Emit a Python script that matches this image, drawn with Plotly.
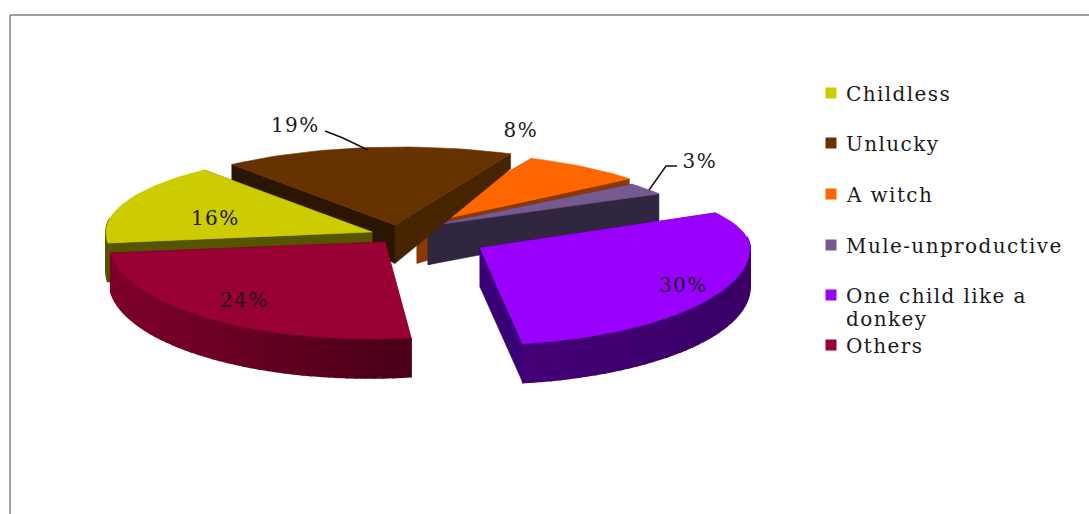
import math
import plotly.graph_objects as go

# ---- data ----
categories = ["Childless", "Unlucky", "A witch", "Mule-unproductive", "One child like a donkey", "Others"]
percent = [16, 19, 8, 3, 30, 24]
legend_labels = ["Childless", "Unlucky", "A witch", "Mule-unproductive", "One child like a<br>donkey", "Others"]

# ---- style ----
top_colors = ["#CCCC00", "#663300", "#FF6600", "#76598F", "#9900FF", "#990033"]
cut_colors = ["#555500", "#2B1500", "#8A3A00", "#312640", "#3A0078", "#7A0028"]
cut2_colors = ["#555500", "#472400", "#8A3A00", "#312640", "#3A0078", "#4F001C"]
rim_left = ["#555500", "#472400", "#8A3A00", "#312640", "#46007A", "#7E002A"]
rim_right = ["#555500", "#472400", "#8A3A00", "#312640", "#3A0066", "#4A0018"]
explode_dx = [-51, -28, -6, 5, 57, -38]
explode_dy = [0, -7, -7, -6, 16, 10]
radius_x = [266, 268, 268, 268, 271, 260]
rim_shift = [0, 6, 5, -3, -1, -16]
far_ry = [80, 78, 73, 66, 72, 75]
draw_order = [2, 3, 1, 0, 5, 4]
label_x = [215, 295, 521, 700, 683, 244]
label_y = [218, 125, 130, 161, 285, 300]

CX, CY = 423, 232
RY_NEAR = 97
START = -96.0
SKEW = 5.0
SKEW_PHASE = 110
FONT = "DejaVu Serif"
TEXT = "#1a1a1a"
LEGEND_LINE = 23


def warp(t):
    return t - SKEW * (1 + math.cos(math.radians(t - SKEW_PHASE)))


def rim(i, t):
    a = math.radians(t)
    c = math.cos(a)
    ry = far_ry[i] if c > 0 else RY_NEAR
    return CX + explode_dx[i] + rim_shift[i] + radius_x[i] * math.sin(a), CY + explode_dy[i] - ry * c


def depth(y):
    return min(39.0, 15 + max(0.0, y - 160) * 0.36)


def hexrgb(h):
    return [int(h[k:k + 2], 16) for k in (1, 3, 5)]


def lerp(h1, h2, f):
    a, b = hexrgb(h1), hexrgb(h2)
    return "rgb(%d,%d,%d)" % tuple(round(a[k] + (b[k] - a[k]) * f) for k in range(3))


fig = go.Figure()


def poly(xs, ys, color, width=0.6):
    fig.add_trace(go.Scatter(
        x=xs, y=ys, mode="lines", fill="toself", fillcolor=color,
        line=dict(color=color, width=width), hoverinfo="skip", showlegend=False))


edges = [START]
for v in percent:
    edges.append(edges[-1] + v * 3.6)

for i in draw_order:
    t0, t1 = warp(edges[i]), warp(edges[i + 1])
    ax, ay = CX + explode_dx[i], CY + explode_dy[i]
    n = max(6, int((t1 - t0) / 2))
    ts = [t0 + (t1 - t0) * k / n for k in range(n + 1)]
    pts = [rim(i, t) for t in ts]
    d0 = depth(ay)
    # cut faces
    for (px, py), col in ((pts[0], cut_colors[i]), (pts[-1], cut2_colors[i])):
        poly([ax, px, px, ax, ax], [ay, py, py + depth(py), ay + d0, ay], col)
    # outer wall, shaded piece by piece
    for k in range(n):
        (x0, y0), (x1, y1) = pts[k], pts[k + 1]
        if math.cos(math.radians(ts[k])) > 0.15 and math.cos(math.radians(ts[k + 1])) > 0.15:
            continue
        xm = (x0 + x1) / 2
        f = min(1, max(0, (xm - (ax - radius_x[i])) / (2 * radius_x[i])))
        if i == 5:
            f = min(1, max(0, (xm - 110) / 300))
        if i == 4:
            f = min(1, max(0, (xm - 480) / 270))
        poly([x0, x1, x1, x0, x0], [y0, y1, y1 + depth(y1), y0 + depth(y0), y0],
             lerp(rim_left[i], rim_right[i], f), width=1.6)
    # top face
    poly([ax] + [p[0] for p in pts] + [ax], [ay] + [p[1] for p in pts] + [ay], top_colors[i])

# leader lines
for lx, ly in (([325, 343, 368], [131, 138, 150]), ([677, 666, 649], [166, 166, 190])):
    fig.add_trace(go.Scatter(x=lx, y=ly, mode="lines", line=dict(color="#111", width=1.5),
                             hoverinfo="skip", showlegend=False))

# percent labels
for i, v in enumerate(percent):
    fig.add_annotation(x=label_x[i], y=label_y[i], text=f"{v}%", showarrow=False,
                       font=dict(family=FONT, size=20, color=TEXT))

# legend
legend_y = [93, 143, 194, 245, 295, 345]
for i, lab in enumerate(legend_labels):
    fig.add_trace(go.Scatter(x=[831], y=[legend_y[i]], mode="markers",
                             marker=dict(symbol="square", size=11, color=top_colors[i]),
                             hovertext=categories[i], hoverinfo="text", showlegend=False))
    for j, part in enumerate(lab.split("<br>")):
        fig.add_annotation(x=844, y=legend_y[i] - 13 + j * LEGEND_LINE, text=part, showarrow=False,
                           xanchor="left", yanchor="top", align="left",
                           font=dict(family=FONT, size=20, color=TEXT))

# frame
fig.add_shape(type="line", x0=10, x1=1089, y0=15, y1=15, line=dict(color="#808080", width=1.4))
fig.add_shape(type="line", x0=10, x1=10, y0=15, y1=514, line=dict(color="#808080", width=1.4))

fig.update_xaxes(range=[0, 1089], visible=False, fixedrange=True)
fig.update_yaxes(range=[514, 0], visible=False, fixedrange=True)
fig.update_layout(width=1089, height=514, margin=dict(l=0, r=0, t=0, b=0),
                  paper_bgcolor="white", plot_bgcolor="white", showlegend=False)
fig.write_html("out.html", config={"displayModeBar": False},
               post_script="document.body.style.margin='0';document.documentElement.style.overflow='hidden';"
                           "var s=document.createElement('style');s.textContent='.annotation-text{letter-spacing:1.4px}';"
                           "document.head.appendChild(s);")
